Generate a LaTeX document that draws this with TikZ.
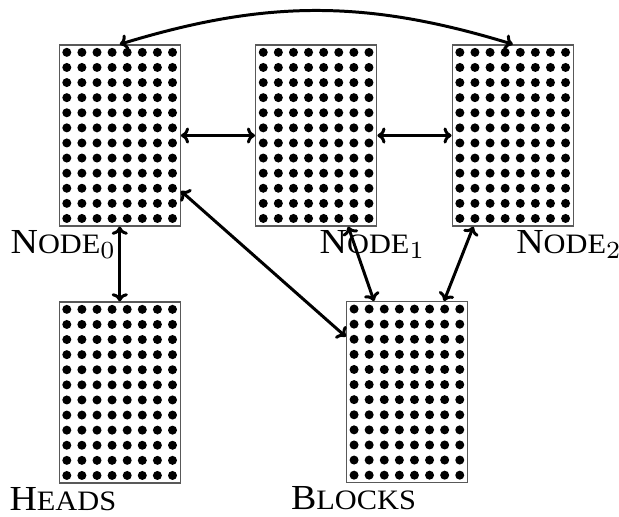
\documentclass[tikz,border=0pt]{standalone}
\usepackage{fontspec}
\setmainfont{Liberation Serif}[FakeStretch=1.08]
\usepackage{tikz}
\usetikzlibrary{arrows.meta}
\newcommand{\fakesc}[2]{#1{\fontsize{8pt}{9pt}\selectfont #2}}
\tikzstyle{bank} = [draw=black!65, line width=0.4pt, minimum width=1.21cm, minimum height=1.81cm, inner sep=0pt,
  path picture={\foreach \i in {0,...,7} \foreach \j in {0,...,11}
    \fill (path picture bounding box.south west) ++(0.0755+0.151*\i,0.0755+0.151*\j) circle (0.045);}]
\tikzstyle{banktag} = [inner sep=0.8pt, font=\fontsize{10pt}{12pt}\selectfont]
\tikzstyle{banklink} = [<->, line width=0.85pt]

\begin{document}
\begin{tikzpicture}[>={To[length=2.3pt,width=4.6pt]}]
  \useasboundingbox (0,0) rectangle (6.19,5.16);
  \node (node0) at (1.1975,3.805) [bank] {};
  \node (node1) at (3.162,3.805) [bank] {};
  \node (node2) at (5.128,3.805) [bank] {};
  \node (heads) at (1.1975,1.235) [bank] {};
  \node (blocks) at (4.07,1.238) [bank] {};
  \node (lnode0) at (node0.south) [banktag, anchor=north east] {\fakesc{N}{ODE}$_0$};
  \node (lnode1) at (node1.south) [banktag, anchor=north west] {\fakesc{N}{ODE}$_1$};
  \node (lnode2) at (node2.south) [banktag, anchor=north west] {\fakesc{N}{ODE}$_2$};
  \node (lheads) at (heads.south) [banktag, anchor=north east] {\fakesc{H}{EADS}};
  \node (lblocks) at ([xshift=-0.535cm]blocks.south) [banktag, anchor=north] {\fakesc{B}{LOCKS}};
  \draw [banklink] (node0.north) to [bend left=17] (node2.north);
  \draw [banklink] (node0.east) to (node1.west);
  \draw [banklink] (node1.east) to (node2.west);
  \draw [banklink] (node0.south) to (heads.north);
  \draw [banklink] ([yshift=-0.555cm]node0.east) to ([yshift=0.555cm]blocks.west);
  \draw [banklink] ([xshift=0.32cm]node1.south) to ([xshift=-0.33cm]blocks.north);
  \draw [banklink] ([xshift=-0.395cm]node2.south) to ([xshift=0.37cm]blocks.north);
\end{tikzpicture}
\end{document}
